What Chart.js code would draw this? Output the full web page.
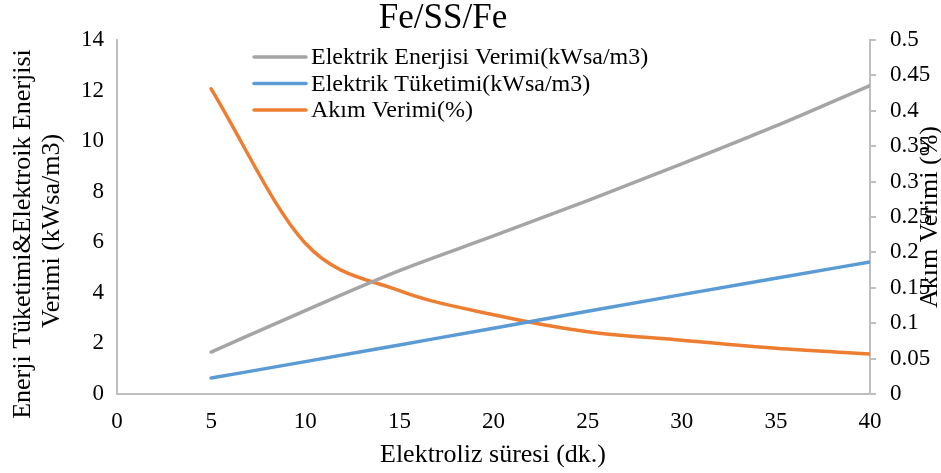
<!DOCTYPE html>
<html>
<head>
<meta charset="utf-8">
<script src="https://cdn.jsdelivr.net/npm/chart.js@4/dist/chart.umd.min.js"></script>
<style>
  html, body { margin: 0; padding: 0; background: #fff; }
  #wrap { width: 941px; height: 473px; position: relative; }
</style>
</head>
<body>
<div id="wrap"><canvas id="chart"></canvas></div>
<script>
// Data
const minutes = [5, 10, 15, 20, 25, 30, 35, 40];
const enerjiVerimi = [1.66, 3.3, 4.88, 6.25, 7.65, 9.1, 10.6, 12.2];
const tuketim = [0.63, 1.28, 1.94, 2.6, 3.27, 3.93, 4.58, 5.22];
const akimVerimi = [0.431, 0.213, 0.146, 0.112, 0.088, 0.076, 0.0645, 0.0565];

const labels = ['Elektrik Enerjisi Verimi(kWsa/m3)', 'Elektrik Tüketimi(kWsa/m3)', 'Akım Verimi(%)'];
const colors = ['#A5A5A5', '#5B9BD5', '#ED7D31'];

const serif = '"Liberation Serif", "Times New Roman", serif';
Chart.defaults.font.family = serif;
Chart.defaults.color = '#000';

function pts(ys) {
    return minutes.map((x, i) => ({ x: x, y: ys[i] }));
}

// titles, axis titles and legend drawn by hand
const decor = {
    id: 'decor',
    afterDraw(chart) {
        const c = chart.ctx;
        c.save();
        c.fillStyle = '#000';
        c.textAlign = 'center';
        c.textBaseline = 'middle';

        c.font = '35px ' + serif;
        c.fillText('Fe/SS/Fe', 443, 19);

        c.font = '26px ' + serif;
        c.fillText('Elektroliz süresi (dk.)', 493, 455);

        c.save();
        c.translate(23, 234);
        c.rotate(-Math.PI / 2);
        c.fillText('Enerji Tüketimi&Elektroik Enerjisi', 0, 0);
        c.restore();

        c.save();
        c.translate(52, 231);
        c.rotate(-Math.PI / 2);
        c.fillText('Verimi (kWsa/m3)', 0, 0);
        c.restore();

        c.save();
        c.translate(930, 217);
        c.rotate(-Math.PI / 2);
        c.fillText('Akım Verimi (%)', 0, 0);
        c.restore();

        // legend
        c.font = '24px ' + serif;
        c.textAlign = 'left';
        c.lineWidth = 3.5;
        c.lineCap = 'round';
        labels.forEach((lab, i) => {
            const y = 57 + i * 26.5;
            c.strokeStyle = colors[i];
            c.beginPath();
            c.moveTo(254, y);
            c.lineTo(306, y);
            c.stroke();
            c.fillText(lab, 311, y + 1);
        });
        c.restore();
    }
};

const ds = (i, data, axis) => ({
    label: labels[i],
    data: pts(data),
    yAxisID: axis,
    borderColor: colors[i],
    backgroundColor: colors[i],
    borderWidth: 3.5,
    borderCapStyle: 'round',
    pointRadius: 0,
    cubicInterpolationMode: 'monotone',
    fill: false
});

new Chart(document.getElementById('chart'), {
    type: 'line',
    data: {
        datasets: [
            ds(0, enerjiVerimi, 'y'),
            ds(1, tuketim, 'y'),
            ds(2, akimVerimi, 'y1')
        ]
    },
    options: {
        responsive: true,
        maintainAspectRatio: false,
        animation: false,
        layout: { padding: { top: 40, left: 0, right: 0, bottom: 0 } },
        plugins: {
            legend: { display: false },
            tooltip: { enabled: false }
        },
        scales: {
            x: {
                type: 'linear',
                min: 0,
                max: 40,
                grid: { drawOnChartArea: false, drawTicks: false },
                border: { color: '#BFBFBF', width: 2 },
                ticks: { stepSize: 5, padding: 14, font: { size: 23 } },
                afterFit(s) { s.height = 79; }
            },
            y: {
                position: 'left',
                min: 0,
                max: 14,
                grid: { drawOnChartArea: false, drawTicks: false },
                border: { color: '#BFBFBF', width: 2 },
                ticks: { stepSize: 2, padding: 13, font: { size: 23 } },
                afterFit(s) { s.width = 117; }
            },
            y1: {
                position: 'right',
                min: 0,
                max: 0.5,
                grid: { drawOnChartArea: false, drawTicks: true, tickLength: 6, color: '#BFBFBF', lineWidth: 2 },
                border: { color: '#BFBFBF', width: 2 },
                ticks: {
                    stepSize: 0.05,
                    padding: 14,
                    font: { size: 23 },
                    callback: v => String(Math.round(v * 100) / 100)
                },
                afterFit(s) { s.width = 71; }
            }
        }
    },
    plugins: [decor]
});
</script>
</body>
</html>
